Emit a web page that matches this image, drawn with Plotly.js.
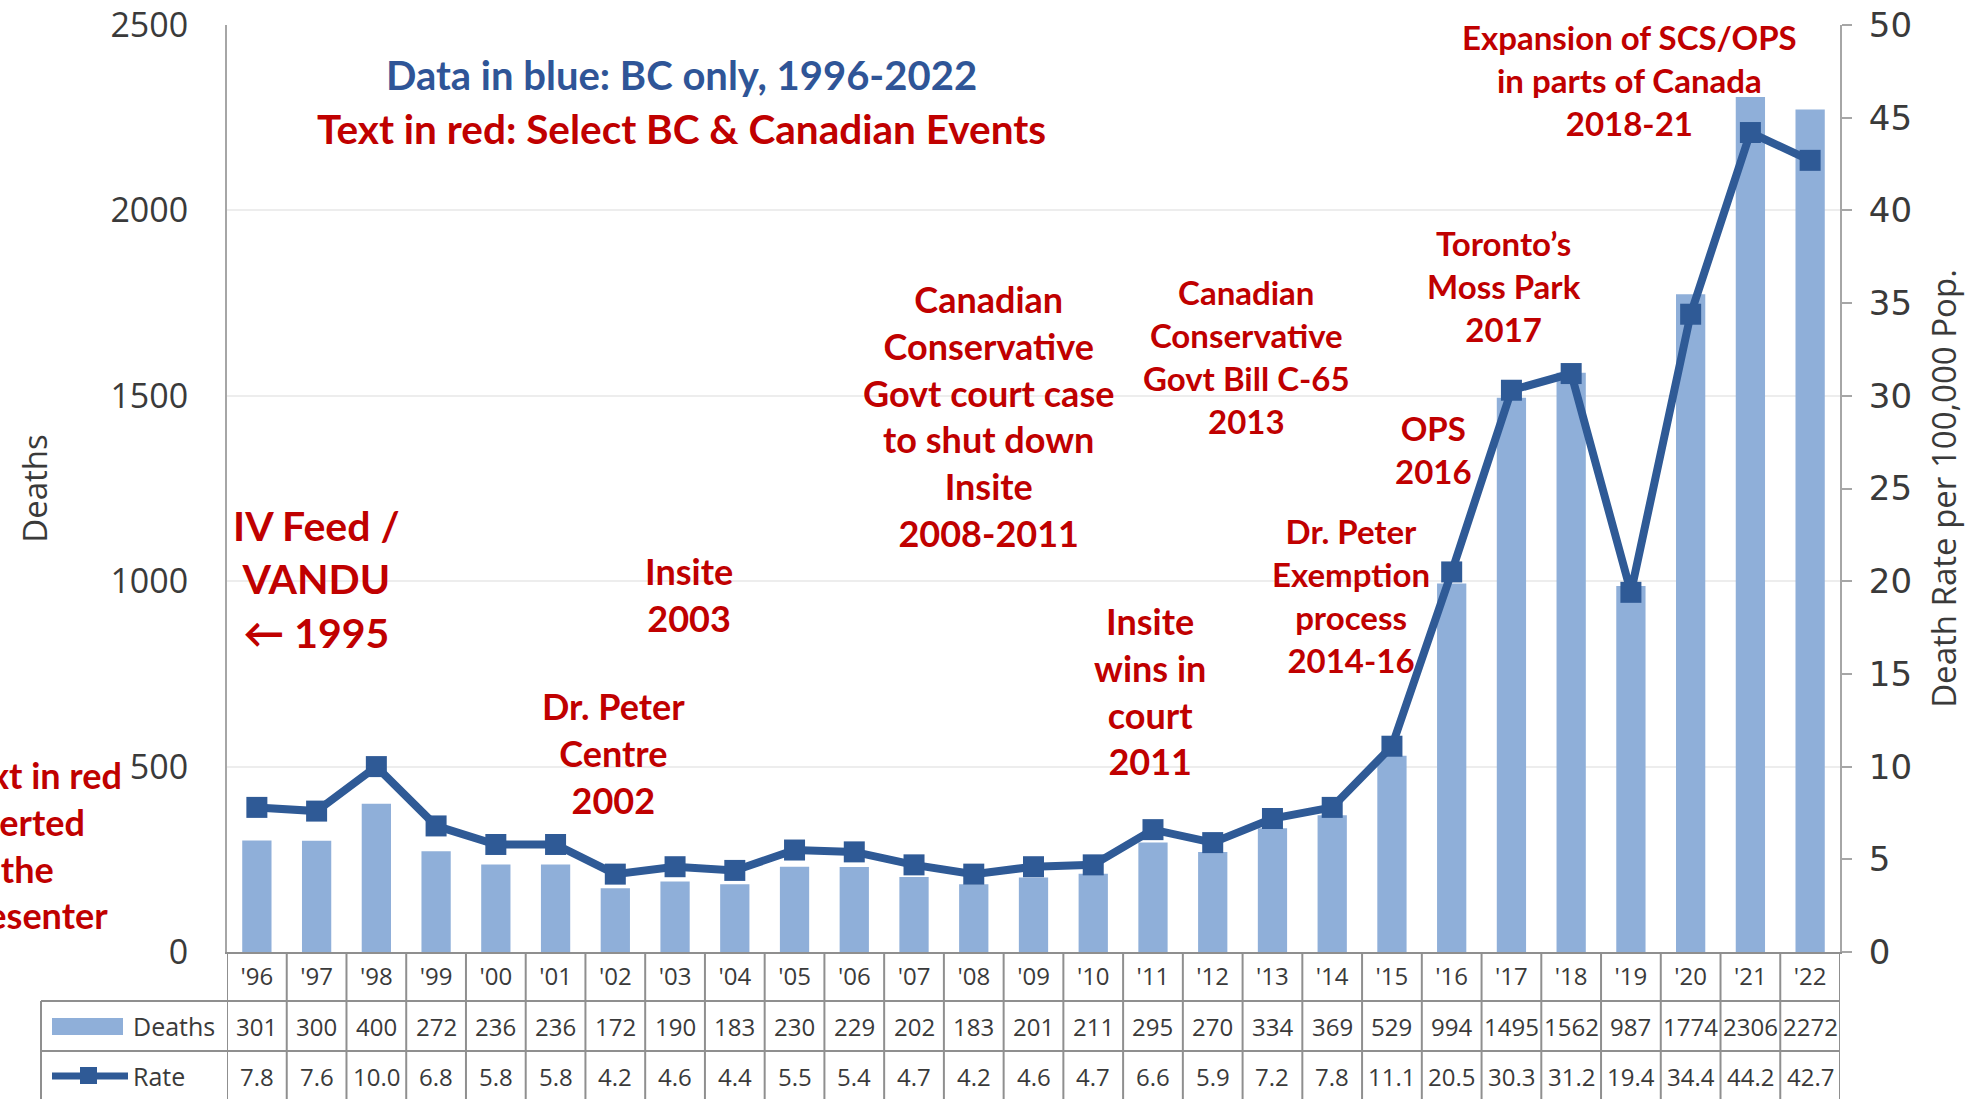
<!DOCTYPE html>
<html><head><meta charset="utf-8">
<script src="https://cdn.plot.ly/plotly-3.0.1.min.js"></script>
<style>html,body{margin:0;padding:0;background:#fff;overflow:hidden}</style>
</head><body><div id="chart" style="width:1969px;height:1099px"></div>
<script>
// ---------------- DATA ----------------
const yearLabels = ["'96","'97","'98","'99","'00","'01","'02","'03","'04","'05","'06","'07","'08","'09","'10","'11","'12","'13","'14","'15","'16","'17","'18","'19","'20","'21","'22"];
const deaths = [301,300,400,272,236,236,172,190,183,230,229,202,183,201,211,295,270,334,369,529,994,1495,1562,987,1774,2306,2272];
const rates = [7.8,7.6,10.0,6.8,5.8,5.8,4.2,4.6,4.4,5.5,5.4,4.7,4.2,4.6,4.7,6.6,5.9,7.2,7.8,11.1,20.5,30.3,31.2,19.4,34.4,44.2,42.7];
const seriesNames = ["Deaths", "Rate"];
const axisTitles = ["Deaths", "Death Rate per 100,000 Pop."];
const headerLines = ["Data in blue: BC only, 1996-2022", "Text in red: Select BC & Canadian Events"];
const eventLabels = [
  "IV Feed /<br>VANDU<br>← 1995",
  "Insite<br>2003",
  "Dr. Peter<br>Centre<br>2002",
  "Canadian<br>Conservative<br>Govt court case<br>to shut down<br>Insite<br>2008-2011",
  "Insite<br>wins in<br>court<br>2011",
  "Canadian<br>Conservative<br>Govt Bill C-65<br>2013",
  "OPS<br>2016",
  "Dr. Peter<br>Exemption<br>process<br>2014-16",
  "Toronto’s<br>Moss Park<br>2017",
  "Expansion of SCS/OPS<br>in parts of Canada<br>2018-21"
];
const sideNote = "Text in red<br>inserted<br>by the<br>presenter";

// ---------------- LAYOUT GEOMETRY ----------------
const W = 1969, H = 1099, L = 227, R = 1840, T = 25, B = 952;
const px2x = p => (p - L) / (R - L);
const px2y = p => (B - p) / (B - T);
const eventPos = [ // pixel centre x, centre y, font size
  [316, 579, 41], [689, 594, 36], [613, 753, 36], [988, 416, 36], [1150, 691, 36],
  [1246, 356, 33], [1433, 449, 33], [1351, 595, 33], [1504, 286, 33], [1629, 80, 33]
];
const RED = '#C00000', BLUE_TXT = '#2F5597', BAR = '#8FAFD9', LINE = '#2F5A96', GRID_LINE = '#8F8F8F', TXT = '#3A3A3A';
const redFont = s => ({family: 'Lato, "Open Sans", sans-serif', size: s, color: RED, weight: 700});
const tblFont = {family: '"Open Sans", sans-serif', size: 24, color: TXT};

// ---------------- TRACES ----------------
const traces = [
  {type: 'bar', x: yearLabels, y: deaths, name: seriesNames[0], marker: {color: BAR}, yaxis: 'y', hoverinfo: 'skip'},
  {type: 'scatter', mode: 'lines+markers', x: yearLabels, y: rates, name: seriesNames[1], yaxis: 'y2',
   line: {color: LINE, width: 8}, marker: {symbol: 'square', size: 21, color: LINE}, hoverinfo: 'skip'}
];

// ---------------- ANNOTATIONS ----------------
const ann = [];
ann.push({xref: 'paper', yref: 'paper', x: px2x(681), y: px2y(75), text: headerLines[0], showarrow: false,
  xanchor: 'center', yanchor: 'middle', font: {family: 'Lato, sans-serif', size: 40, color: BLUE_TXT, weight: 700}});
ann.push({xref: 'paper', yref: 'paper', x: px2x(681), y: px2y(128), text: headerLines[1], showarrow: false,
  xanchor: 'center', yanchor: 'middle', font: redFont(40.5)});
eventLabels.forEach((t, i) => {
  const p = eventPos[i];
  ann.push({xref: 'paper', yref: 'paper', x: px2x(p[0]), y: px2y(p[1]), text: t, showarrow: false,
    xanchor: 'center', yanchor: 'middle', align: 'center', font: redFont(p[2])});
});
ann.push({xref: 'paper', yref: 'paper', x: px2x(-48), y: px2y(845), text: sideNote, showarrow: false,
  xanchor: 'left', yanchor: 'middle', align: 'left', font: redFont(36)});

// table cells
const rowDeathsY = px2y(1026), rowRateY = px2y(1076);
deaths.forEach((d, i) => ann.push({xref: 'x', yref: 'paper', x: i, y: rowDeathsY, text: String(d), showarrow: false,
  xanchor: 'center', yanchor: 'middle', font: tblFont}));
rates.forEach((r, i) => ann.push({xref: 'x', yref: 'paper', x: i, y: rowRateY, text: r.toFixed(1), showarrow: false,
  xanchor: 'center', yanchor: 'middle', font: tblFont}));
ann.push({xref: 'paper', yref: 'paper', x: px2x(131), y: rowDeathsY, text: seriesNames[0], showarrow: false,
  xanchor: 'left', yanchor: 'middle', font: {family: '"Open Sans", sans-serif', size: 25, color: TXT}});
ann.push({xref: 'paper', yref: 'paper', x: px2x(131), y: rowRateY, text: seriesNames[1], showarrow: false,
  xanchor: 'left', yanchor: 'middle', font: {family: '"Open Sans", sans-serif', size: 25, color: TXT}});

// ---------------- SHAPES (table grid + legend keys) ----------------
const shapes = [];
const ln = {color: GRID_LINE, width: 2};
for (let i = 0; i <= yearLabels.length; i++) {
  shapes.push({type: 'line', xref: 'x', yref: 'paper', x0: i - 0.5, x1: i - 0.5, y0: px2y(B), y1: px2y(H + 5), line: ln});
}
[1001, 1051].forEach(py => shapes.push({type: 'line', xref: 'paper', yref: 'paper', x0: px2x(41), x1: 1, y0: px2y(py), y1: px2y(py), line: ln}));
shapes.push({type: 'line', xref: 'paper', yref: 'paper', x0: px2x(41), x1: px2x(41), y0: px2y(1001), y1: px2y(H + 5), line: ln});
// legend keys
shapes.push({type: 'rect', xref: 'paper', yref: 'paper', x0: px2x(52), x1: px2x(123), y0: px2y(1035), y1: px2y(1018), line: {width: 0}, fillcolor: BAR});
shapes.push({type: 'line', xref: 'paper', yref: 'paper', x0: px2x(52), x1: px2x(128), y0: rowRateY, y1: rowRateY, line: {color: LINE, width: 7}});
shapes.push({type: 'rect', xref: 'paper', yref: 'paper', x0: px2x(80), x1: px2x(97), y0: px2y(1084), y1: px2y(1067), line: {width: 0}, fillcolor: LINE});

const layout = {
  width: W, height: H,
  margin: {l: L, r: W - R, t: T, b: H - B, pad: 0},
  paper_bgcolor: '#fff', plot_bgcolor: '#fff',
  showlegend: false,
  bargap: 0.51,
  font: {family: '"Open Sans", sans-serif', color: TXT},
  xaxis: {type: 'category', range: [-0.5, yearLabels.length - 0.5], showline: true, linecolor: GRID_LINE, linewidth: 2,
    ticks: '', showgrid: false, zeroline: false, tickfont: {family: '"Open Sans", sans-serif', size: 24, color: TXT},
    ticklabelstandoff: 2, automargin: false, fixedrange: true},
  yaxis: {range: [0, 2500], dtick: 500, showgrid: true, gridcolor: '#EDEDED', gridwidth: 2, zeroline: false,
    showline: true, linecolor: '#A6A6A6', linewidth: 2, ticks: '', ticklabelstandoff: 30,
    tickfont: {family: '"Open Sans", sans-serif', size: 34, color: TXT},
    title: {text: axisTitles[0], font: {family: '"Open Sans", sans-serif', size: 33, color: TXT}, standoff: 53},
    automargin: false, fixedrange: true},
  yaxis2: {range: [0, 50], dtick: 5, overlaying: 'y', side: 'right', showgrid: false, zeroline: false,
    showline: true, linecolor: '#A6A6A6', linewidth: 2, ticks: 'outside', ticklen: 10, tickwidth: 2, tickcolor: '#A6A6A6',
    ticklabelstandoff: 10, tickfont: {family: '"DejaVu Sans", sans-serif', size: 34, color: TXT},
    title: {text: axisTitles[1], font: {family: '"Open Sans", sans-serif', size: 33, color: TXT}, standoff: 22},
    automargin: false, fixedrange: true},
  annotations: ann,
  shapes: shapes
};

Plotly.newPlot('chart', traces, layout, {staticPlot: true, displayModeBar: false});
</script>
</body></html>
